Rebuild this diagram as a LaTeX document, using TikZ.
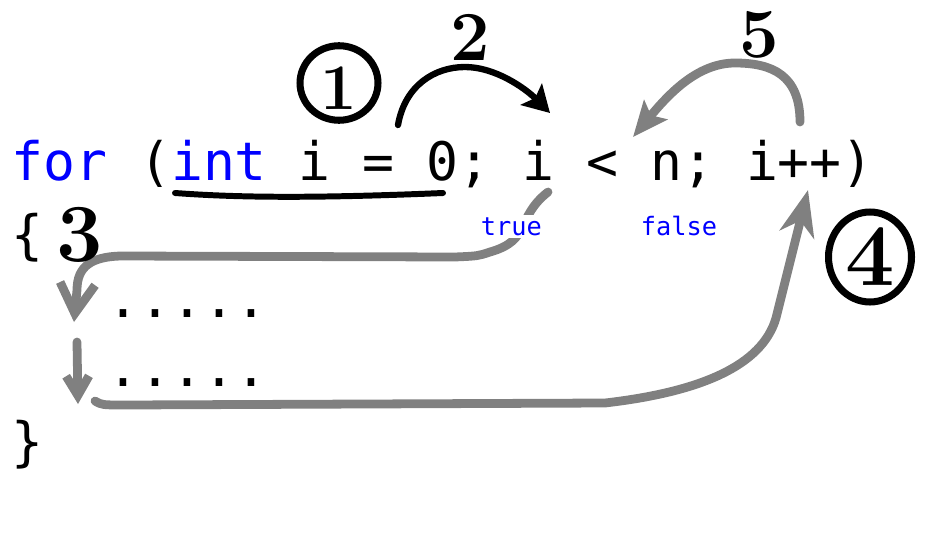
\documentclass[tikz,border=0pt]{standalone}
\usepackage{fontspec}
\usetikzlibrary{arrows.meta,shapes.geometric}
\newfontfamily\codefont{DejaVu Sans Mono}
\definecolor{kwblue}{RGB}{0,0,255}
\definecolor{penGray}{RGB}{128,128,128}
\tikzset{
  code/.style={font={\codefont\fontsize{30.2}{36}\selectfont}, inner sep=0pt, anchor=base west},
  branch/.style={font={\codefont\fontsize{14.4}{16}\selectfont}, text=kwblue, inner sep=1.5pt, anchor=base west, fill=white},
  hand/.style={font={\bfseries\fontsize{40}{40}\selectfont}, inner sep=0pt},
  ring/.style={hand, draw, ellipse, line width=4pt, inner sep=0pt},
  bpen/.style={line width=3.6pt, line cap=round, line join=round},
  gpen/.style={draw=penGray, line width=5pt, line cap=round, line join=round},
}
\begin{document}
\begin{tikzpicture}[x=0.02cm, y=-0.02cm]
\useasboundingbox (0,0) rectangle (942,534);
% the code
\node[code] (head) at (11,180) {\textcolor{kwblue}{for} (\textcolor{kwblue}{int} i = 0; i < n; i++)};
\node[code] (open) at (11,253) {\{};
\node[code] (body1) at (107,317) {.....};
\node[code] (body2) at (107,386) {.....};
\node[code] (close) at (11,460) {\}};
% ends of the pen strokes
\coordinate (initL) at (175,193);
\coordinate (initR) at (443,193);
\coordinate (initEnd) at (398,125);
\coordinate (condMark) at (550,113);
\coordinate (incStart) at (800,122);
\coordinate (condBack) at (633,137);
\coordinate (trueStart) at (548,192);
\coordinate (bodyIn) at (74,322);
\coordinate (stepFrom) at (77,342);
\coordinate (stepTo) at (78,404);
\coordinate (loopOut) at (95,401);
\coordinate (incBottom) at (808,190);
% black pen
\draw[bpen, line width=3.4pt] (initL) .. controls (230,197) and (300,199) .. (initR);
\draw[bpen, -{Stealth[length=15pt,width=17pt,inset=3pt]}] (initEnd) .. controls (405,85) and (435,67) .. (465,67) .. controls (495,67) and (525,88) .. (condMark);
% gray pen
\draw[gpen, -{Stealth[length=20pt,width=17pt,inset=4pt]}] (incStart) .. controls (800,75) and (772,63) .. (735,63) .. controls (697,63) and (668,95) .. (condBack);
\draw[gpen, -{Straight Barb[length=17pt,width=20pt]}] (trueStart) .. controls (515,218) and (532,240) .. (490,252) .. controls (478,256) .. (455,257) -- (120,256) .. controls (92,257) and (77,266) .. (77,290) -- (bodyIn);
\draw[gpen, -{Straight Barb[length=11pt,width=13pt]}] (stepFrom) -- (stepTo);
\draw[gpen, -{Stealth[length=26pt,width=20pt,inset=8pt]}] (loopOut) .. controls (102,405) .. (125,405) -- (605,403) .. controls (700,392) and (762,366) .. (776,318) -- (incBottom);
% branch words
\node[branch] (yes) at (478,235) {true};
\node[branch] (no) at (638,235) {false};
% step numbers
\node[ring, minimum width=1.56cm, minimum height=1.46cm, text height=30pt, font={\bfseries\fontsize{37}{37}\selectfont}] (n1) at (339,83) {1};
\node[hand] (n2) at (470,37) {2};
\node[hand, font={\bfseries\fontsize{47}{47}\selectfont}] (n3) at (80,235) {3};
\node[ring, minimum width=1.66cm, minimum height=1.8cm, font={\bfseries\fontsize{50}{50}\selectfont}] (n4) at (870,257) {4};
\node[hand] (n5) at (759,35) {5};
\end{tikzpicture}
\end{document}
